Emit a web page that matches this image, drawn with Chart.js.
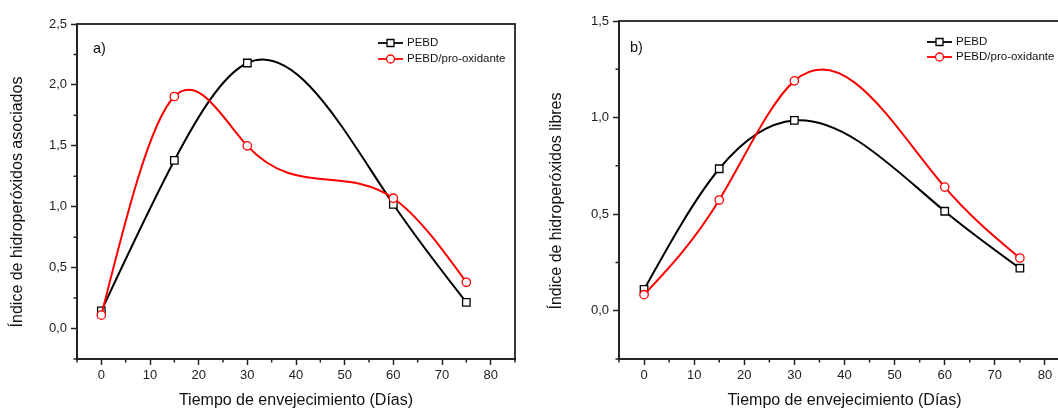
<!DOCTYPE html>
<html>
<head>
<meta charset="utf-8">
<script src="https://cdn.jsdelivr.net/npm/chart.js@4.4.1/dist/chart.umd.min.js"></script>
<style>
    html, body { margin: 0; padding: 0; background: #fff; overflow: hidden; }
    #wrap { position: relative; width: 1058px; height: 410px; overflow: hidden; }
    canvas { position: absolute; top: 0; }
    #chartA { left: 0; }
    #chartB { left: 540px; }
</style>
</head>
<body>
<div id="wrap">
    <canvas id="chartA" width="540" height="410"></canvas>
    <canvas id="chartB" width="540" height="410"></canvas>
</div>
<script>
// Tiempo de envejecimiento (días)
const dias = [0, 15, 30, 60, 75];

// a) índice de hidroperóxidos asociados
const asociadosPEBD = [0.145, 1.38, 2.18, 1.02, 0.215];
const asociadosProOx = [0.11, 1.905, 1.50, 1.07, 0.38];

// b) índice de hidroperóxidos libres
const libresPEBD = [0.11, 0.735, 0.985, 0.515, 0.22];
const libresProOx = [0.083, 0.573, 1.19, 0.64, 0.273];

const nombresSeries = ['PEBD', 'PEBD/pro-oxidante'];

// etiquetas de los ejes (solo las marcas mayores llevan texto)
const ticksX = [0, 10, 20, 30, 40, 50, 60, 70, 80];
const ticksYA = ['0,0', '0,5', '1,0', '1,5', '2,0', '2,5'];
const ticksYB = ['0,0', '0,5', '1,0', '1,5'];

const FUENTE = 'Arial, "Liberation Sans", sans-serif';
const COLOR_EJE = '#222';

function fmtComa(v) {
    return v.toFixed(1).replace('.', ',');
}

function esMayor(v, paso) {
    return Math.abs(v / paso - Math.round(v / paso)) < 1e-6;
}

// derivadas en los nodos de un spline cúbico natural (como el "Spline" de Origin)
function derivadasSpline(xs, ys) {
    const n = xs.length;
    const h = [];
    for (let i = 0; i < n - 1; i++) h.push(xs[i + 1] - xs[i]);
    const M = new Array(n).fill(0);
    if (n > 2) {
        // sistema tridiagonal para M1..M(n-2), método de Thomas
        const a = [], b = [], c = [], r = [];
        for (let i = 1; i < n - 1; i++) {
            a.push(h[i - 1]);
            b.push(2 * (h[i - 1] + h[i]));
            c.push(h[i]);
            r.push(6 * ((ys[i + 1] - ys[i]) / h[i] - (ys[i] - ys[i - 1]) / h[i - 1]));
        }
        const m = b.length;
        for (let i = 1; i < m; i++) {
            const w = a[i] / b[i - 1];
            b[i] -= w * c[i - 1];
            r[i] -= w * r[i - 1];
        }
        const sol = new Array(m);
        sol[m - 1] = r[m - 1] / b[m - 1];
        for (let i = m - 2; i >= 0; i--) sol[i] = (r[i] - c[i] * sol[i + 1]) / b[i];
        for (let i = 0; i < m; i++) M[i + 1] = sol[i];
    }
    const d = [];
    for (let i = 0; i < n - 1; i++) {
        d.push((ys[i + 1] - ys[i]) / h[i] - h[i] * (2 * M[i] + M[i + 1]) / 6);
    }
    const k = n - 2;
    d.push((ys[k + 1] - ys[k]) / h[k] + h[k] * (M[k] + 2 * M[k + 1]) / 6);
    return d;
}

// reemplaza los puntos de control de Chart.js por los del spline natural
const splineNatural = {
    id: 'splineNatural',
    beforeDatasetDraw(chart, args) {
        const meta = args.meta;
        const line = meta.dataset;
        if (!line || !line.points || line.points.length < 3) return;
        line.updateControlPoints(chart.chartArea, meta.iScale.axis);
        const pts = line.points;
        const xs = pts.map(p => p.x);
        const ys = pts.map(p => p.y);
        const d = derivadasSpline(xs, ys);
        pts.forEach((p, i) => {
            if (i > 0) {
                const h = xs[i] - xs[i - 1];
                p.cp1x = xs[i] - h / 3;
                p.cp1y = ys[i] - d[i] * h / 3;
            }
            if (i < pts.length - 1) {
                const h = xs[i + 1] - xs[i];
                p.cp2x = xs[i] + h / 3;
                p.cp2y = ys[i] + d[i] * h / 3;
            }
        });
    }
};

// marco, marcas menores, título del eje Y, etiqueta a)/b) y leyenda
const decoracion = {
    id: 'decoracion',
    afterDraw(chart, args, opts) {
        const ctx = chart.ctx;
        const a = chart.chartArea;
        const sx = chart.scales.x;
        const sy = chart.scales.y;
        ctx.save();

        // marco completo
        ctx.strokeStyle = COLOR_EJE;
        ctx.lineWidth = 1.8;
        ctx.strokeRect(a.left, a.top, a.right - a.left, a.bottom - a.top);

        // marcas menores (más cortas)
        ctx.lineWidth = 1.5;
        ctx.beginPath();
        sx.ticks.forEach(t => {
            if (!esMayor(t.value, 10)) {
                const px = sx.getPixelForValue(t.value);
                ctx.moveTo(px, a.bottom);
                ctx.lineTo(px, a.bottom + 3.5);
            }
        });
        sy.ticks.forEach(t => {
            if (!esMayor(t.value, 0.5)) {
                const py = sy.getPixelForValue(t.value);
                ctx.moveTo(a.left, py);
                ctx.lineTo(a.left - 3.5, py);
            }
        });
        ctx.stroke();

        // título del eje Y
        ctx.save();
        ctx.translate(opts.tituloX, opts.tituloY);
        ctx.rotate(-Math.PI / 2);
        ctx.fillStyle = '#111';
        ctx.font = '16px ' + FUENTE;
        ctx.textAlign = 'center';
        ctx.textBaseline = 'middle';
        ctx.fillText(opts.tituloY_texto, 0, 0);
        ctx.restore();

        // etiqueta del panel
        ctx.fillStyle = '#111';
        ctx.font = '14.5px ' + FUENTE;
        ctx.textAlign = 'left';
        ctx.textBaseline = 'middle';
        ctx.fillText(opts.etiqueta, opts.etiquetaX, opts.etiquetaY);

        // leyenda
        const lg = opts.leyenda;
        ctx.font = '11.5px ' + FUENTE;
        chart.data.datasets.forEach((ds, i) => {
            const y = lg.y + i * lg.dy;
            const xc = lg.x + lg.largo / 2;
            ctx.strokeStyle = ds.borderColor;
            ctx.lineWidth = 1.8;
            ctx.beginPath();
            ctx.moveTo(lg.x, y);
            ctx.lineTo(lg.x + lg.largo, y);
            ctx.stroke();
            ctx.fillStyle = '#fff';
            ctx.lineWidth = 1.3;
            ctx.beginPath();
            if (ds.pointStyle === 'rect') {
                ctx.rect(xc - 3.5, y - 3.5, 7, 7);
            } else {
                ctx.arc(xc, y, 4, 0, Math.PI * 2);
            }
            ctx.fill();
            ctx.stroke();
            ctx.fillStyle = '#111';
            ctx.fillText(ds.label, lg.x + lg.largo + 4, y);
        });
        ctx.restore();
    }
};

function crearGrafico(cfg) {
    const datasets = [
        {
            label: nombresSeries[0],
            data: dias.map((d, i) => ({ x: d, y: cfg.negra[i] })),
            borderColor: '#000',
            backgroundColor: '#fff',
            borderWidth: 2,
            pointStyle: 'rect',
            pointRadius: 5.3,
            pointBorderWidth: 1.3,
            pointBackgroundColor: '#fff',
            pointBorderColor: '#000',
            tension: 0.4,
            order: 1
        },
        {
            label: nombresSeries[1],
            data: dias.map((d, i) => ({ x: d, y: cfg.roja[i] })),
            borderColor: '#ff0000',
            backgroundColor: '#fff',
            borderWidth: 2,
            pointStyle: 'circle',
            pointRadius: 4.2,
            pointBorderWidth: 1.3,
            pointBackgroundColor: '#fff',
            pointBorderColor: '#ff0000',
            tension: 0.4,
            order: 0
        }
    ];

    return new Chart(document.getElementById(cfg.id), {
        type: 'line',
        data: { datasets: datasets },
        options: {
            responsive: false,
            animation: false,
            devicePixelRatio: 1,
            layout: { padding: cfg.padding },
            plugins: {
                legend: { display: false },
                tooltip: { enabled: false },
                decoracion: cfg.deco
            },
            scales: {
                x: {
                    type: 'linear',
                    min: -5,
                    max: 85,
                    afterFit: s => { s.height = 51; },
                    ticks: {
                        stepSize: 5,
                        autoSkip: false,
                        maxRotation: 0,
                        padding: 3,
                        color: COLOR_EJE,
                        font: { family: FUENTE, size: 13 },
                        callback: v => ticksX.includes(v) ? String(v) : ''
                    },
                    grid: {
                        drawOnChartArea: false,
                        tickLength: 6,
                        tickWidth: 1.5,
                        tickColor: c => esMayor(c.tick.value, 10) ? COLOR_EJE : 'rgba(0,0,0,0)'
                    },
                    border: { color: COLOR_EJE, width: 1.8 },
                    title: {
                        display: true,
                        text: 'Tiempo de envejecimiento (Días)',
                        color: '#111',
                        font: { family: FUENTE, size: 16 },
                        padding: { top: 0, bottom: 0 }
                    }
                },
                y: {
                    min: -0.25,
                    max: cfg.yMax,
                    afterFit: s => { s.width = cfg.anchoY; },
                    ticks: {
                        stepSize: 0.25,
                        autoSkip: false,
                        padding: 4,
                        color: COLOR_EJE,
                        font: { family: FUENTE, size: 13 },
                        callback: v => cfg.ticksY.includes(fmtComa(v)) && esMayor(v, 0.5) ? fmtComa(v) : ''
                    },
                    grid: {
                        drawOnChartArea: false,
                        tickLength: 6,
                        tickWidth: 1.5,
                        tickColor: c => esMayor(c.tick.value, 0.5) ? COLOR_EJE : 'rgba(0,0,0,0)'
                    },
                    border: { color: COLOR_EJE, width: 1.8 }
                }
            }
        },
        plugins: [splineNatural, decoracion]
    });
}

crearGrafico({
    id: 'chartA',
    negra: asociadosPEBD,
    roja: asociadosProOx,
    yMax: 2.5,
    ticksY: ticksYA,
    anchoY: 77,
    padding: { top: 24, right: 25, bottom: 0, left: 0 },
    deco: {
        tituloX: 18,
        tituloY: 202,
        tituloY_texto: 'Índice de hidroperóxidos asociados',
        etiqueta: 'a)',
        etiquetaX: 93,
        etiquetaY: 49,
        leyenda: { x: 378, y: 43, dy: 16, largo: 25 }
    }
});

crearGrafico({
    id: 'chartB',
    negra: libresPEBD,
    roja: libresProOx,
    yMax: 1.5,
    ticksY: ticksYB,
    anchoY: 79,
    padding: { top: 21, right: 10, bottom: 0, left: 0 },
    deco: {
        tituloX: 17,
        tituloY: 201,
        tituloY_texto: 'Índice de hidroperóxidos libres',
        etiqueta: 'b)',
        etiquetaX: 90,
        etiquetaY: 48,
        leyenda: { x: 387, y: 42, dy: 15, largo: 25 }
    }
});
</script>
</body>
</html>
